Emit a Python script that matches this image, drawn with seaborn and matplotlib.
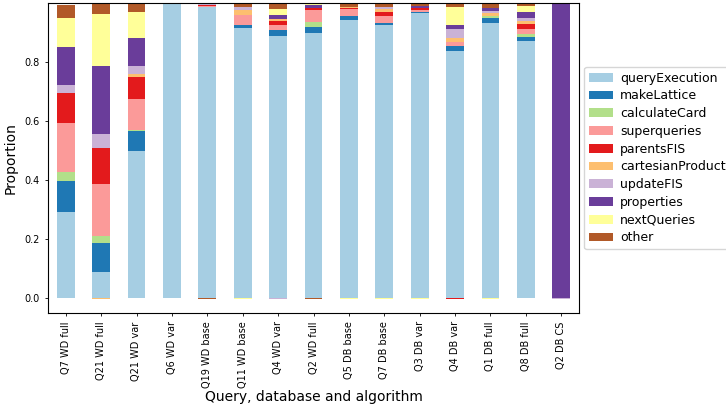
import numpy as np
import pandas as pd
import matplotlib
matplotlib.use("Agg")
import matplotlib.pyplot as plt
import seaborn as sns

queries = ["Q7 WD full", "Q21 WD full", "Q21 WD var", "Q6 WD var", "Q19 WD base",
           "Q11 WD base", "Q4 WD var", "Q2 WD full", "Q5 DB base", "Q7 DB base",
           "Q3 DB var", "Q4 DB var", "Q1 DB full", "Q8 DB full", "Q2 DB CS"]

components = ["queryExecution", "makeLattice", "calculateCard", "superqueries", "parentsFIS",
              "cartesianProduct", "updateFIS", "properties", "nextQueries", "other"]

queryExecution   = [0.291, 0.087, 0.498, 0.997, 0.985, 0.916, 0.888, 0.898, 0.943, 0.926, 0.966, 0.837, 0.932, 0.871, 0.000]
makeLattice      = [0.105, 0.099, 0.068, 0.000, 0.002, 0.010, 0.020, 0.020, 0.014, 0.007, 0.004, 0.017, 0.017, 0.014, 0.000]
calculateCard    = [0.031, 0.023, 0.004, 0.000, 0.000, 0.000, 0.000, 0.017, 0.000, 0.000, 0.000, 0.000, 0.007, 0.010, 0.000]
superqueries     = [0.166, 0.177, 0.104, 0.000, 0.002, 0.034, 0.017, 0.041, 0.024, 0.024, 0.006, 0.014, 0.000, 0.017, 0.000]
parentsFIS       = [0.102, 0.122, 0.075, 0.000, 0.005, 0.000, 0.014, 0.007, 0.003, 0.014, 0.007, -0.004, 0.000, 0.017, 0.000]
cartesianProduct = [0.000, -0.004, 0.010, 0.000, 0.000, 0.017, 0.007, 0.000, 0.003, 0.007, 0.000, 0.014, 0.010, 0.010, 0.000]
updateFIS        = [0.027, 0.048, 0.027, 0.000, 0.002, 0.010, -0.004, 0.000, 0.000, 0.007, 0.000, 0.031, 0.007, 0.010, -0.004]
properties       = [0.129, 0.231, 0.095, 0.000, 0.003, 0.000, 0.014, 0.010, 0.000, 0.000, 0.007, 0.014, 0.010, 0.020, 0.999]
nextQueries      = [0.098, 0.176, 0.089, 0.000, 0.000, -0.004, 0.020, 0.003, -0.004, -0.004, -0.004, 0.058, -0.004, 0.020, 0.000]
other            = [0.045, 0.036, 0.030, 0.003, -0.004, 0.012, 0.019, -0.004, 0.011, 0.016, 0.007, 0.010, 0.016, 0.009, 0.000]

series = [queryExecution, makeLattice, calculateCard, superqueries, parentsFIS,
          cartesianProduct, updateFIS, properties, nextQueries, other]

df = pd.DataFrame(dict(zip(components, series)), index=queries)

# ColorBrewer "Paired" shades, one per component
paired = sns.color_palette("Paired", 12)
palette = [paired[i] for i in (0, 1, 2, 4, 5, 6, 8, 9, 10, 11)]

W, H, DPI = 726, 407, 100
fig = plt.figure(figsize=(W / DPI, H / DPI), dpi=DPI)
ax = fig.add_axes([48 / W, 1 - 313 / H, (579 - 48) / W, (313 - 3) / H])

# stack positive shares upward from zero and negative shares downward
pos_base = np.zeros(len(queries))
neg_base = np.zeros(len(queries))
for comp, color in zip(components, palette):
    vals = df[comp].to_numpy()
    bottom = np.where(vals >= 0, pos_base, neg_base)
    layer = pd.DataFrame({"query": queries, "share": vals})
    sns.barplot(data=layer, x="query", y="share", color=color, bottom=bottom,
                width=0.5, errorbar=None, label=comp, ax=ax,
                saturation=1, linewidth=0)
    pos_base = pos_base + np.clip(vals, 0, None)
    neg_base = neg_base + np.clip(vals, None, 0)

ax.set_xlim(-0.5, len(queries) - 0.5)
ax.set_ylim(-0.052, 1.0)
ax.set_yticks([0.0, 0.2, 0.4, 0.6, 0.8])
ax.tick_params(axis="both", labelsize=7, length=2.5, width=0.6)
ax.tick_params(axis="x", labelrotation=90)
ax.set_xlabel("Query, database and algorithm", fontsize=10, labelpad=1.5)
ax.set_ylabel("Proportion", fontsize=10, labelpad=5)
for sp in ax.spines.values():
    sp.set_linewidth(0.8)

ax.legend(loc="center left", bbox_to_anchor=(1.0, 0.5), fontsize=9,
          labelspacing=0.38, handlelength=1.9, handletextpad=0.6,
          borderaxespad=0.4, frameon=True)

fig.savefig("out.png", dpi=DPI)
